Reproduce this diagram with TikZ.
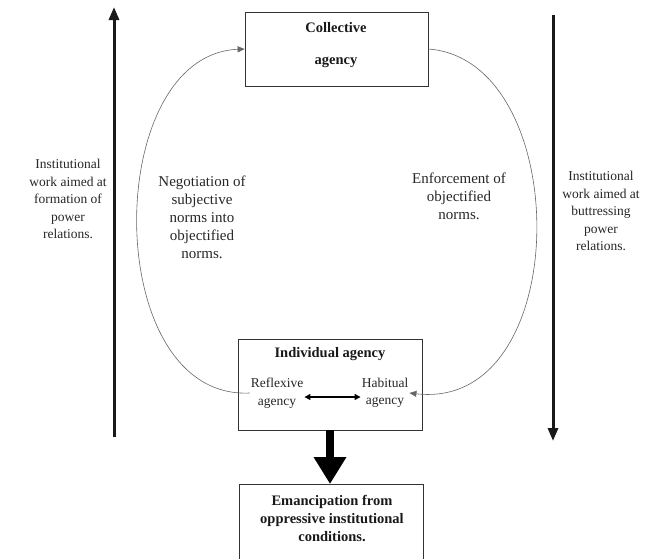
\documentclass[tikz,border=0pt]{standalone}
\usepackage{fontspec}
\setmainfont{Liberation Serif}
\usepackage{tikz}
\usetikzlibrary{arrows.meta}
\tikzstyle{txt}=[align=center,inner sep=1pt,font=\fontsize{13.5}{17.5}\selectfont,black!85]
\tikzstyle{mid}=[align=center,inner sep=1pt,font=\fontsize{15}{18}\selectfont,black!85]
\tikzstyle{bold}=[align=center,inner sep=1pt,font=\fontsize{14.5}{18}\selectfont\bfseries,black!90]
\tikzstyle{box}=[draw,thick,black!80]
\tikzstyle{loop}=[draw,black!60,line width=0.6pt,-{Triangle[length=7pt,width=6pt]}]
\tikzstyle{power}=[line width=3pt,black!90,-{Triangle[length=13pt,width=10pt]}]
\tikzstyle{swap}=[line width=1.4pt,{Triangle[length=6pt,width=6pt]}-{Triangle[length=6pt,width=6pt]}]
\tikzstyle{result}=[line width=8pt,-{Triangle[length=27pt,width=31pt]}]

\begin{document}
\begin{tikzpicture}[x=1pt,y=-1pt]
	\useasboundingbox (0,0) rectangle (651,558);
	% boxes
	\node[box,minimum width=183pt,minimum height=74pt] (coll) at (336.5,49) {};
	\node[box,minimum width=184pt,minimum height=91pt] (ind) at (330,384.5) {};
	\node[box,minimum width=184pt,minimum height=80pt,anchor=north] (eman) at (331,484) {};
	\node[bold] (colltxt) at (336,45) {Collective\\[14pt]agency};
	\node[bold] (emantxt) at (332,518) {Emancipation from\\oppressive institutional\\conditions.};
	\node[bold] (indtitle) at (330,354) {Individual agency};
	\node[txt] (refl) at (277,393) {Reflexive\\agency};
	\node[txt] (hab) at (385,393) {Habitual\\agency};

	% side texts
	\node[txt] (form) at (68,199) {Institutional\\work aimed at\\formation of\\power\\relations.};
	\node[txt] (butt) at (601,211) {Institutional\\work aimed at\\buttressing\\power\\relations.};
	\node[mid] (nego) at (202,217) {Negotiation of\\subjective\\norms into\\objectified\\norms.};
	\node[mid] (enfo) at (459,196) {Enforcement of\\objectified\\norms.};

	% side arrows
	\coordinate (lbot) at (114,437);
	\coordinate (ltop) at (114,7);
	\coordinate (rtop) at (553,15);
	\coordinate (rbot) at (553,441);
	\draw[power] (lbot) -- (ltop);
	\draw[power] (rtop) -- (rbot);

	% the loop
	\draw[loop] (refl.west) .. controls (101,400) and (101,55) .. (coll.west);
	\draw[loop] (coll.east) .. controls (575,60) and (575,412) .. (hab.east);

	\draw[swap] ([yshift=-4pt]refl.east) -- ([yshift=-4pt]hab.west);
	\draw[result] (ind.south) -- (ind.south |- eman.north);
\end{tikzpicture}
\end{document}
